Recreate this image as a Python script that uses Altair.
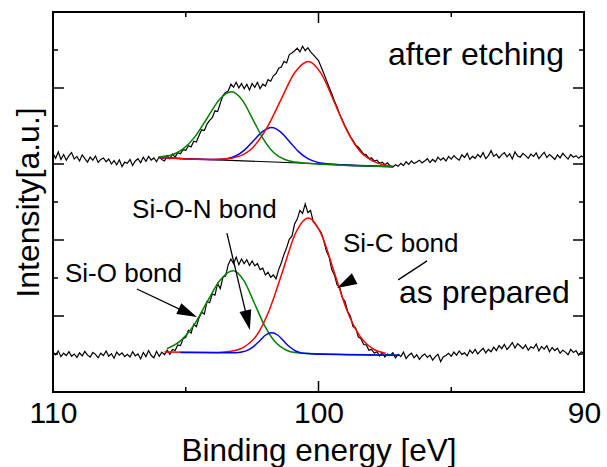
import altair as alt
import pandas as pd

# ---------------- data ----------------
# measured spectra on a 0.1 eV grid from 110.0 eV down to 90.0 eV
energy = [round(110.0 - 0.1 * i, 1) for i in range(201)]

as_prepared = [
    1.05, 0.98, 1.08, 0.93, 1.02, 0.96, 1.06, 0.94, 1.00, 0.91,
    1.03, 0.95, 1.07, 0.97, 0.92, 1.04, 0.99, 0.90, 1.02, 0.96,
    1.08, 0.94, 1.01, 0.89, 1.05, 0.97, 1.03, 0.93, 0.99, 0.92,
    1.06, 0.95, 1.00, 0.87, 1.04, 0.93, 1.09, 0.96, 0.90, 1.07,
    0.94, 1.05, 0.98, 1.10, 0.99, 1.12, 1.09, 1.24, 1.22, 1.40,
    1.44, 1.62, 1.55, 1.78, 1.72, 1.95, 2.10, 2.05, 2.38, 2.35,
    2.58, 2.55, 2.85, 2.72, 3.02, 3.05, 3.35, 3.50, 3.38, 3.55,
    3.35, 3.50, 3.38, 3.48, 3.33, 3.45, 3.32, 3.38, 3.22, 3.26,
    3.08, 3.15, 3.02, 3.08, 2.98, 3.22, 3.40, 3.62, 3.80, 4.02,
    4.10, 4.42, 4.55, 4.78, 4.70, 4.95, 4.72, 4.78, 4.48, 4.40,
    4.30, 4.20, 3.98, 3.70, 3.55, 3.22, 3.08, 2.82, 2.75, 2.48,
    2.38, 2.12, 2.00, 1.72, 1.68, 1.45, 1.40, 1.25, 1.24, 1.10,
    1.12, 1.02, 1.06, 0.95, 1.04, 0.92, 1.00, 0.96, 1.03, 0.90,
    0.99, 0.93, 1.05, 0.88, 0.97, 1.02, 0.90, 0.98, 0.86, 0.95,
    1.00, 0.91, 0.97, 0.84, 0.93, 0.99, 0.80, 0.92, 0.96, 1.02,
    0.94, 1.05, 0.97, 1.08, 0.99, 1.03, 0.95, 1.10, 1.02, 1.12,
    1.00, 1.08, 1.15, 1.03, 1.12, 1.06, 1.18, 1.09, 1.22, 1.14,
    1.25, 1.12, 1.20, 1.30, 1.16, 1.27, 1.21, 1.14, 1.24, 1.10,
    1.19, 1.15, 1.26, 1.08, 1.20, 1.13, 1.22, 1.06, 1.17, 1.09,
    1.15, 1.02, 1.10, 1.05, 0.98, 1.12, 1.04, 1.09, 0.97, 1.06, 1.01,
]

after_etching = [
    6.28, 6.15, 6.32, 6.12, 6.25, 6.10, 6.22, 6.30, 6.13, 6.20,
    6.08, 6.24, 6.14, 6.05, 6.18, 6.10, 6.21, 6.04, 6.12, 6.16,
    6.06, 6.13, 6.00, 6.09, 5.98, 6.11, 5.93, 6.05, 6.02, 6.12,
    5.96, 6.08, 6.14, 6.03, 6.18, 6.07, 6.20, 6.10, 6.16, 6.06,
    6.19, 6.12, 6.08, 6.22, 6.14, 6.26, 6.18, 6.30, 6.27, 6.38,
    6.36, 6.48, 6.45, 6.60, 6.58, 6.75, 6.90, 6.88, 7.05, 7.15,
    7.22, 7.40, 7.38, 7.60, 7.80, 7.88, 7.92, 8.10, 8.02, 8.15,
    8.00, 8.12, 7.98, 8.10, 7.95, 8.12, 8.02, 8.15, 7.98, 8.10,
    8.05, 8.22, 8.18, 8.32, 8.38, 8.52, 8.55, 8.70, 8.66, 8.88,
    8.92, 8.98, 9.05, 8.95, 9.10, 8.98, 9.06, 8.95, 8.88, 8.80,
    8.72, 8.55, 8.38, 8.20, 8.02, 7.85, 7.66, 7.50, 7.30, 7.15,
    7.00, 6.86, 6.72, 6.62, 6.50, 6.44, 6.35, 6.26, 6.24, 6.15,
    6.16, 6.08, 6.10, 6.02, 6.05, 5.98, 6.03, 5.95, 5.92, 5.98,
    5.94, 6.02, 5.96, 6.06, 5.99, 6.08, 6.01, 6.05, 6.10, 6.03,
    6.08, 6.14, 6.04, 6.12, 6.06, 6.18, 6.10, 6.16, 6.08, 6.20,
    6.13, 6.22, 6.15, 6.10, 6.24, 6.17, 6.28, 6.12, 6.20, 6.15,
    6.25, 6.18, 6.30, 6.14, 6.22, 6.35, 6.20, 6.26, 6.16, 6.24,
    6.30, 6.19, 6.27, 6.13, 6.32, 6.21, 6.18, 6.28, 6.22, 6.15,
    6.26, 6.20, 6.29, 6.14, 6.23, 6.31, 6.17, 6.25, 6.19, 6.12,
    6.24, 6.16, 6.28, 6.20, 6.13, 6.25, 6.18, 6.22, 6.15, 6.21, 6.17,
]

# fitted components (energy, intensity)
up_bg_e = [106.0, 97.2]
up_bg_v = [6.17, 5.93]
up_blue_e = [106.0, 104.14, 103.8, 103.46, 103.12, 102.78, 102.44, 102.1, 101.76,
             101.42, 101.08, 100.74, 100.4, 100.06, 99.72, 99.38, 97.2]
up_blue_v = [6.17, 6.12, 6.12, 6.14, 6.21, 6.37, 6.62, 6.86, 6.96,
             6.84, 6.58, 6.32, 6.14, 6.05, 6.01, 5.99, 5.93]
up_red_e = [106.0, 104.06, 103.53, 103.0, 102.48, 101.96, 101.43, 100.9, 100.38,
            99.89, 99.4, 98.91, 98.42, 97.93, 97.44, 97.2]
up_red_v = [6.17, 6.12, 6.13, 6.20, 6.43, 6.93, 7.67, 8.40, 8.70,
            8.37, 7.62, 6.85, 6.32, 6.07, 5.96, 5.94]
up_green_e = [106.0, 105.57, 105.11, 104.65, 104.19, 103.73, 103.27, 102.87, 102.47,
              102.07, 101.67, 101.27, 100.87, 100.47, 97.2]
up_green_v = [6.19, 6.23, 6.39, 6.72, 7.21, 7.70, 7.90, 7.68, 7.17,
              6.65, 6.29, 6.12, 6.05, 6.02, 5.93]

lo_green_e = [105.71, 105.21, 104.71, 104.21, 103.71, 103.21, 102.81, 102.41, 102.01,
              101.61, 101.21, 100.81, 100.41, 97.0]
lo_green_v = [1.14, 1.34, 1.74, 2.35, 2.94, 3.19, 2.93, 2.33, 1.72,
              1.30, 1.10, 1.03, 1.01, 0.97]
lo_red_e = [105.8, 103.78, 103.29, 102.81, 102.32, 101.84, 101.35, 100.87, 100.38,
            99.9, 99.41, 98.93, 98.44, 97.96, 97.47]
lo_red_v = [1.05, 1.04, 1.07, 1.18, 1.50, 2.18, 3.18, 4.17, 4.58,
            4.16, 3.16, 2.15, 1.47, 1.14, 1.02]
lo_blue_e = [105.2, 103.34, 103.11, 102.89, 102.66, 102.44, 102.21, 101.99, 101.76,
             101.54, 101.31, 101.09, 100.86, 100.64, 100.41, 100.19, 96.93]
lo_blue_v = [1.04, 1.03, 1.03, 1.05, 1.10, 1.20, 1.35, 1.50, 1.56,
             1.50, 1.34, 1.19, 1.08, 1.03, 1.01, 1.00, 0.97]

# axis ticks
x_major = [110, 100, 90]
x_minor = [105, 95]
y_major = [2, 4, 6, 8]
y_minor = [1, 3, 5, 7, 9]

# annotations (data units)
bond_labels = ["Si-O bond", "Si-O-N bond", "Si-C bond"]
bond_label_e = [109.55, 107.02, 99.08]
bond_label_v = [2.895, 4.58, 3.68]
arrow_e = [106.84, 103.45, 97.0]
arrow_v = [2.71, 4.18, 2.95]
arrow_e2 = [104.84, 102.655, 95.91]
arrow_v2 = [2.05, 1.84, 3.45]
head_e = [104.92, 102.67, 98.97]
head_v = [2.084, 1.887, 2.86]
head_angle = [25, 77, 152]

# ---------------- chart ----------------
W, H = 531, 380
FONT = "Liberation Sans"

xs = alt.Scale(domain=[90, 110], reverse=True, nice=False, zero=False)
ys = alt.Scale(domain=[0, 10], nice=False, zero=False)

x_axis = alt.Axis(values=x_major, labelFontSize=30, labelPadding=30,
                  labelBaseline="alphabetic", labelFlush=False, labelOverlap=False,
                  format="d", titleFontSize=31.5, titleX=W / 2, titleY=68,
                  titleBaseline="alphabetic", titleAlign="center")
y_axis = alt.Axis(labels=False, titleFontSize=32, titleX=-15, titleY=H / 2,
                  titleAngle=270, titleAlign="center", titleBaseline="alphabetic")


def X(field="E"):
    return alt.X(f"{field}:Q", scale=xs, axis=x_axis, title="Binding energy [eV]")


def Y(field="I"):
    return alt.Y(f"{field}:Q", scale=ys, axis=y_axis, title="Intensity[a.u.]")


spec_df = pd.DataFrame({
    "E": energy + energy,
    "I": as_prepared + after_etching,
    "s": ["as prepared"] * len(energy) + ["after etching"] * len(energy),
})
layers = [
    alt.Chart(spec_df).mark_line(color="black", strokeWidth=1.2).encode(
        x=X(), y=Y(), detail="s:N")
]


def curve(es, vs, color, width=1.5):
    df = pd.DataFrame({"E": es, "I": vs})
    return alt.Chart(df).mark_line(color=color, strokeWidth=width,
                                   interpolate="monotone").encode(x=X(), y=Y())


layers += [
    curve(up_bg_e, up_bg_v, "black", 1.2),
    curve(up_blue_e, up_blue_v, "#0000ff"),
    curve(up_red_e, up_red_v, "#ff0000"),
    curve(up_green_e, up_green_v, "#008000"),
    curve(lo_green_e, lo_green_v, "#008000"),
    curve(lo_red_e, lo_red_v, "#ff0000"),
    curve(lo_blue_e, lo_blue_v, "#0000ff"),
]

# inward ticks on all four sides
for vals, ln in ((x_major, 11), (x_minor, 5)):
    d = pd.DataFrame({"E": vals})
    layers.append(alt.Chart(d).mark_rule(color="black", strokeWidth=1.5).encode(
        x=X(), y=alt.value(H), y2=alt.value(H - ln)))
    layers.append(alt.Chart(d).mark_rule(color="black", strokeWidth=1.5).encode(
        x=X(), y=alt.value(0), y2=alt.value(ln)))
for vals, ln in ((y_major, 11), (y_minor, 5)):
    d = pd.DataFrame({"I": vals})
    layers.append(alt.Chart(d).mark_rule(color="black", strokeWidth=1.5).encode(
        y=Y(), x=alt.value(0), x2=alt.value(ln)))
    layers.append(alt.Chart(d).mark_rule(color="black", strokeWidth=1.5).encode(
        y=Y(), x=alt.value(W), x2=alt.value(W - ln)))

# arrows
arrow_df = pd.DataFrame({"E": arrow_e, "I": arrow_v, "E2": arrow_e2, "I2": arrow_v2})
layers.append(alt.Chart(arrow_df).mark_rule(color="black", strokeWidth=1.3).encode(
    x=X(), y=Y(), x2="E2:Q", y2="I2:Q"))
for e, v, a in zip(head_e, head_v, head_angle):
    d = pd.DataFrame({"E": [e], "I": [v]})
    layers.append(alt.Chart(d).mark_point(
        shape="M1,0L-1,-0.6L-1,0.6Z", filled=True, color="black", opacity=1,
        size=400, angle=a, strokeWidth=0).encode(x=X(), y=Y()))

# texts
bond_df = pd.DataFrame({"E": bond_label_e, "I": bond_label_v, "t": bond_labels})
layers.append(alt.Chart(bond_df).mark_text(
    align="left", baseline="alphabetic", font=FONT, fontSize=26, color="black").encode(
    x=X(), y=Y(), text="t:N"))
layers.append(alt.Chart(pd.DataFrame({"E": [97.38], "I": [8.605], "t": ["after etching"]})).mark_text(
    align="left", baseline="alphabetic", font=FONT, fontSize=32, color="black").encode(
    x=X(), y=Y(), text="t:N"))
layers.append(alt.Chart(pd.DataFrame({"E": [96.97], "I": [2.34], "t": ["as prepared"]})).mark_text(
    align="left", baseline="alphabetic", font=FONT, fontSize=32, color="black").encode(
    x=X(), y=Y(), text="t:N"))

chart = alt.layer(*layers).properties(
    width=W, height=H,
    autosize=alt.AutoSizeParams(type="none"),
    padding={"left": 53, "top": 12, "right": 23, "bottom": 75},
    background="white",
).configure_view(
    stroke="black", strokeWidth=2
).configure_axis(
    grid=False, domain=False, ticks=False, tickSize=0,
    labelFont=FONT, titleFont=FONT, labelColor="black", titleColor="black",
    titleFontWeight="normal",
)

chart.save("out.html", embed_options={"renderer": "svg", "actions": False})
